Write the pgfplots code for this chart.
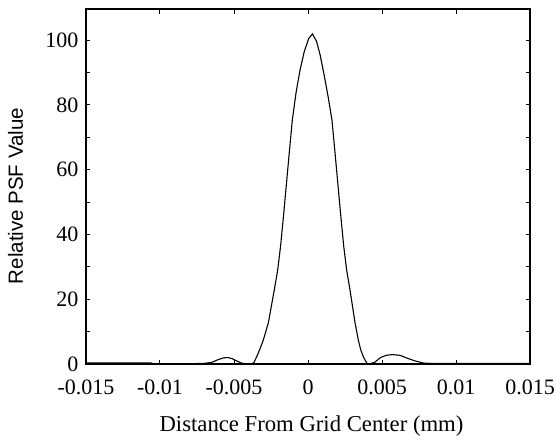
\documentclass[border=0pt]{standalone}
\usepackage{fontspec}
\setmainfont{Liberation Serif}
\newfontfamily\labelsans{Liberation Sans}
\usepackage{pgfplots}
\pgfplotsset{compat=1.18}

% traced PSF profile (mm, relative value)
\pgfplotstableread{
x y
-0.0150 0.3
-0.0106 0.3
-0.0104 0.0
-0.0077 0.0
-0.0074 0.2
-0.0070 0.2
-0.0065 0.5
-0.0061 1.3
-0.0057 1.9
-0.0054 2.0
-0.0051 1.6
-0.0048 0.9
-0.0045 0.3
-0.0041 0.0
-0.0038 0.0
-0.00365 0.5
-0.00347 2.2
-0.00325 4.6
-0.00302 7.4
-0.00268 12.7
-0.00228 22.8
-0.00205 29.0
-0.00185 36.5
-0.00165 46.0
-0.00145 56.0
-0.00125 66.0
-0.00106 75.3
-0.00080 84.0
-0.00054 90.7
-0.00025 96.5
0.00005 100.5
0.00030 101.9
0.00058 99.6
0.00082 95.4
0.00108 89.5
0.00136 82.5
0.00162 75.3
0.00181 66.0
0.00201 56.0
0.00221 46.0
0.00241 36.5
0.00261 29.0
0.00284 22.8
0.00318 12.7
0.00340 7.4
0.00356 4.4
0.00374 2.2
0.00397 0.3
0.00410 0.0
0.00450 0.5
0.00490 2.0
0.00530 2.7
0.00570 2.9
0.00620 2.7
0.00670 1.8
0.00720 1.0
0.00780 0.3
0.00820 0.2
0.01500 0.2
}\psfdata

\begin{document}
\begin{tikzpicture}
\begin{axis}[
    scale only axis,
    width=444pt, height=355pt,
    xmin=-0.015, xmax=0.015,
    ymin=0, ymax=109.6,
    xtick={-0.015,-0.01,-0.005,0,0.005,0.01,0.015},
    xticklabels={-0.015,-0.01,-0.005,0,0.005,0.01,0.015},
    ytick={0,20,40,60,80,100},
    yticklabels={0,20,40,60,80,100},
    minor ytick={10,30,50,70,90},
    scaled x ticks=false,
    tick align=inside,
    major tick length=4.5pt,
    minor tick length=4.5pt,
    every tick/.style={black, line width=1pt},
    axis line style={line width=1.6pt},
    ticklabel style={font=\fontsize{22}{22}\selectfont, inner sep=0.5pt},
    xticklabel style={yshift=-14.8pt},
    yticklabel style={xshift=-6.8pt},
    xlabel={Distance From Grid Center (mm)},
    ylabel={Relative PSF Value},
    every axis x label/.style={at={(axis description cs:0.5079,-0.1890)}, anchor=base,
        font=\fontsize{22.7}{24}\selectfont},
    every axis y label/.style={at={(axis description cs:-0.1419,0.4732)}, anchor=base,
        rotate=90, font=\labelsans\fontsize{20.5}{22}\selectfont},
]
\addplot[black, line width=1.1pt, no marks] table[x=x, y=y] {\psfdata};
\end{axis}
\pgfresetboundingbox
\path (current axis.south west) ++(-86pt,-76pt) rectangle ++(556pt,440pt);
\end{tikzpicture}
\end{document}
